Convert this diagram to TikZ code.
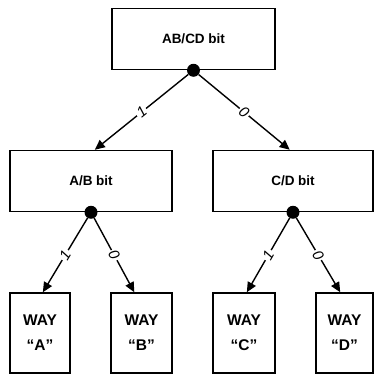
\documentclass[tikz,border=0pt]{standalone}
\usepackage{fontspec}
\setmainfont{Liberation Sans}
\usetikzlibrary{arrows.meta, positioning}

\begin{document}
\begin{tikzpicture}[x=1pt,y=-1pt,
  bitbox/.style={draw=black,line width=1.5pt,minimum width=162pt,minimum height=61pt,
    inner sep=0pt,font=\bfseries\fontsize{13.5}{15}\selectfont},
  waybox/.style={draw=black,line width=1.5pt,minimum height=80pt,inner sep=0pt,
    align=center,font=\bfseries\fontsize{15.5}{25}\selectfont},
  tap/.style={circle,fill=black,minimum size=13pt,inner sep=0pt},
  branch/.style={line width=1.4pt,-{Triangle[length=10pt,width=9pt]}},
  bitval/.style={sloped,fill=white,inner sep=1.5pt,font=\itshape\fontsize{15}{15}\selectfont}]
\useasboundingbox (0,0) rectangle (374,376);
% select bits
\node[bitbox,minimum width=163pt] (abcd) at (193.5,39) {AB/CD bit};
\node[bitbox] (ab) at (91,181) {A/B bit};
\node[bitbox,minimum width=160pt] (cd) at (293,181) {C/D bit};
% ways
\node[waybox,minimum width=60pt] (wayA) at (40,333) {WAY\\``A''};
\node[waybox,minimum width=61pt] (wayB) at (141.5,333) {WAY\\``B''};
\node[waybox,minimum width=62pt] (wayC) at (244,333) {WAY\\``C''};
\node[waybox,minimum width=57pt] (wayD) at (344.5,333) {WAY\\``D''};
% taps
\node[tap] (t0) at (abcd.south) {};
\node[tap] (t1) at (ab.south) {};
\node[tap] (t2) at (cd.south) {};
% branches
\draw[branch] (t0) -- node[bitval] {1} (ab.83);
\draw[branch] (t0) -- node[bitval] {0} (cd.96);
\draw[branch] (t1) -- node[bitval] {1} (wayA.86);
\draw[branch] (t1) -- node[bitval] {0} (wayB.100);
\draw[branch] (t2) -- node[bitval] {1} (wayC.86);
\draw[branch] (t2) -- node[bitval] {0} (wayD.96);
\end{tikzpicture}
\end{document}
